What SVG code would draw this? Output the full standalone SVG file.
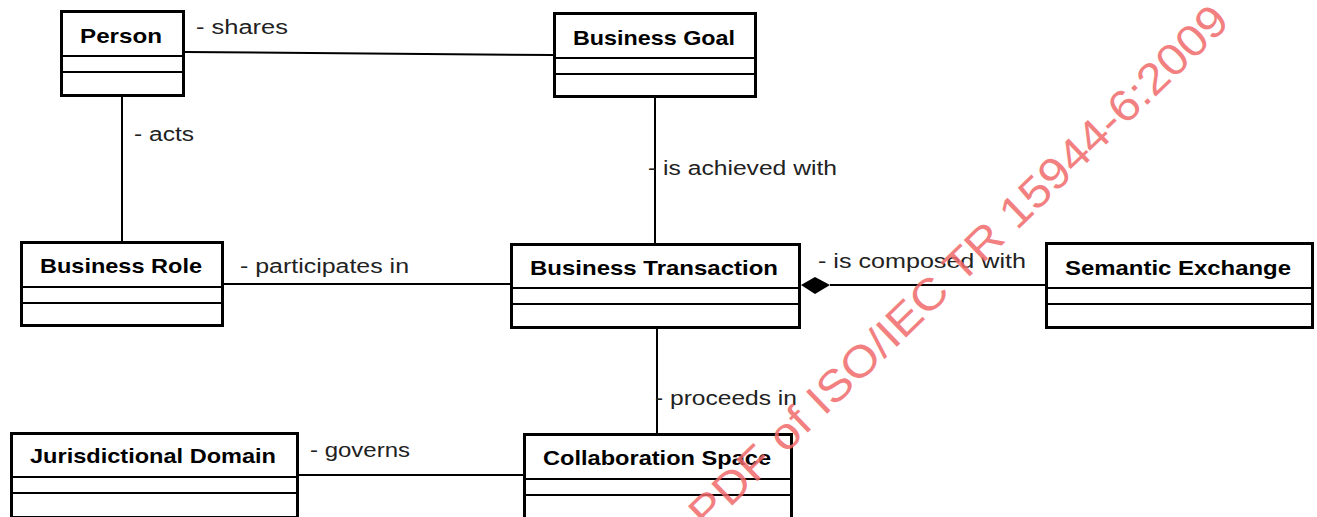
<svg xmlns="http://www.w3.org/2000/svg" width="1317" height="517" viewBox="0 0 1317 517">
<style>
.box{fill:#fff;stroke:#000;stroke-width:3}
.div{stroke:#000;stroke-width:2}
.title{font-family:"Liberation Sans",Arial,sans-serif;font-weight:bold;font-size:21px;fill:#000}
.lbl{font-family:"Liberation Sans",Arial,sans-serif;font-size:20px;fill:#222}
.conn{stroke:#000;stroke-width:2;fill:none}
.wm{font-family:"Liberation Sans",Arial,sans-serif;font-size:44px;fill:#f06a6a;opacity:0.85}
</style>
<rect width="1317" height="517" fill="#fff"/>
<g id="connectors">
<line class="conn" x1="185" y1="52" x2="553" y2="55"/>
<line class="conn" x1="122" y1="97" x2="122" y2="241"/>
<line class="conn" x1="655" y1="98" x2="655" y2="243"/>
<line class="conn" x1="224" y1="284" x2="510" y2="284"/>
<line class="conn" x1="830" y1="285" x2="1045" y2="285"/>
<polygon points="801,285 815,277 830,285 815,294" fill="#000"/>
<line class="conn" x1="657" y1="329" x2="657" y2="433"/>
<line class="conn" x1="299" y1="475" x2="523" y2="475"/>
<text class="lbl" x="196" y="34" textLength="92" lengthAdjust="spacingAndGlyphs">- shares</text>
<text class="lbl" x="134" y="141" textLength="60" lengthAdjust="spacingAndGlyphs">- acts</text>
<text class="lbl" x="648" y="175" textLength="189" lengthAdjust="spacingAndGlyphs">- is achieved with</text>
<text class="lbl" x="240" y="273" textLength="169" lengthAdjust="spacingAndGlyphs">- participates in</text>
<text class="lbl" x="818" y="268" textLength="208" lengthAdjust="spacingAndGlyphs">- is composed with</text>
<text class="lbl" x="655" y="405" textLength="142" lengthAdjust="spacingAndGlyphs">- proceeds in</text>
<text class="lbl" x="310" y="457" textLength="100" lengthAdjust="spacingAndGlyphs">- governs</text>
</g>
<g id="person">
<rect class="box" x="61.5" y="11.5" width="122" height="84"/>
<line class="div" x1="61" y1="56" x2="184" y2="56"/>
<line class="div" x1="61" y1="72" x2="184" y2="72"/>
<text class="title" x="80" y="43" textLength="82" lengthAdjust="spacingAndGlyphs">Person</text>
</g>
<g id="business-goal">
<rect class="box" x="554.5" y="13.5" width="201" height="83"/>
<line class="div" x1="554" y1="58" x2="756" y2="58"/>
<line class="div" x1="554" y1="74" x2="756" y2="74"/>
<text class="title" x="573" y="45" textLength="162" lengthAdjust="spacingAndGlyphs">Business Goal</text>
</g>
<g id="business-role">
<rect class="box" x="21.5" y="242.5" width="201" height="83"/>
<line class="div" x1="21" y1="287" x2="223" y2="287"/>
<line class="div" x1="21" y1="303" x2="223" y2="303"/>
<text class="title" x="40" y="273" textLength="162" lengthAdjust="spacingAndGlyphs">Business Role</text>
</g>
<g id="business-transaction">
<rect class="box" x="511.5" y="244.5" width="288" height="83"/>
<line class="div" x1="511" y1="288" x2="800" y2="288"/>
<line class="div" x1="511" y1="304" x2="800" y2="304"/>
<text class="title" x="530" y="275" textLength="248" lengthAdjust="spacingAndGlyphs">Business Transaction</text>
</g>
<g id="semantic-exchange">
<rect class="box" x="1046.5" y="243.5" width="266" height="84"/>
<line class="div" x1="1046" y1="288" x2="1313" y2="288"/>
<line class="div" x1="1046" y1="304" x2="1313" y2="304"/>
<text class="title" x="1065" y="275" textLength="226" lengthAdjust="spacingAndGlyphs">Semantic Exchange</text>
</g>
<g id="jurisdictional-domain">
<rect class="box" x="11.5" y="433.5" width="286" height="84"/>
<line class="div" x1="11" y1="477" x2="298" y2="477"/>
<line class="div" x1="11" y1="493" x2="298" y2="493"/>
<text class="title" x="30" y="463" textLength="246" lengthAdjust="spacingAndGlyphs">Jurisdictional Domain</text>
</g>
<g id="collaboration-space">
<rect class="box" x="524.5" y="434.5" width="267" height="84"/>
<line class="div" x1="524" y1="479" x2="792" y2="479"/>
<line class="div" x1="524" y1="495" x2="792" y2="495"/>
<text class="title" x="543" y="465" textLength="228" lengthAdjust="spacingAndGlyphs">Collaboration Space</text>
</g>
<text class="wm" x="958" y="266" text-anchor="middle" dominant-baseline="central" textLength="730" lengthAdjust="spacingAndGlyphs" transform="rotate(-44 958 266)">PDF of ISO/IEC TR 15944-6:2009</text>
</svg>
